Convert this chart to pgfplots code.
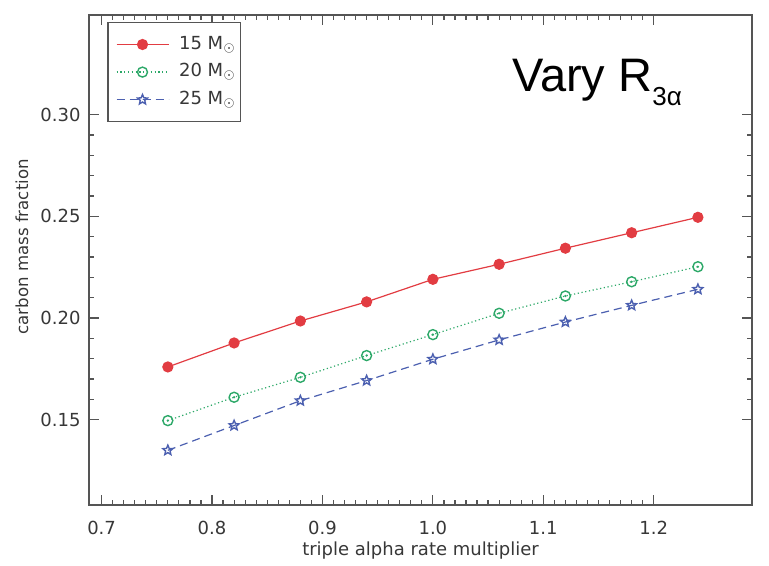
\documentclass[border=0pt]{standalone}
\usepackage{pgfplots}
\pgfplotsset{compat=1.18}
\usepackage{fontspec}
\setmainfont{DejaVu Sans}
\newfontfamily\arial{Liberation Sans}
\usetikzlibrary{plotmarks}
\definecolor{cred}{RGB}{226,60,66}
\definecolor{cgreen}{RGB}{44,168,104}
\definecolor{cblue}{RGB}{76,96,176}
\definecolor{axgray}{RGB}{85,85,85}
\definecolor{txtgray}{RGB}{55,55,55}
\pgfdeclareplotmark{ostar}{%
  \pgfpathmoveto{\pgfqpointpolar{90}{\pgfplotmarksize}}%
  \pgfpathlineto{\pgfqpointpolar{126}{0.45\pgfplotmarksize}}%
  \pgfpathlineto{\pgfqpointpolar{162}{\pgfplotmarksize}}%
  \pgfpathlineto{\pgfqpointpolar{198}{0.45\pgfplotmarksize}}%
  \pgfpathlineto{\pgfqpointpolar{234}{\pgfplotmarksize}}%
  \pgfpathlineto{\pgfqpointpolar{270}{0.45\pgfplotmarksize}}%
  \pgfpathlineto{\pgfqpointpolar{306}{\pgfplotmarksize}}%
  \pgfpathlineto{\pgfqpointpolar{342}{0.45\pgfplotmarksize}}%
  \pgfpathlineto{\pgfqpointpolar{18}{\pgfplotmarksize}}%
  \pgfpathlineto{\pgfqpointpolar{54}{0.45\pgfplotmarksize}}%
  \pgfpathclose
  \pgfusepathqstroke
}
\begin{document}
\begin{tikzpicture}
\path (-44.5pt,-29pt) rectangle (340pt,252.5pt);
\begin{axis}[
  at={(0,0)}, anchor=south west,
  scale only axis, width=331.5pt, height=245pt,
  xmin=0.6886, xmax=1.289, ymin=0.108, ymax=0.349,
  xtick={0.7,0.8,0.9,1.0,1.1,1.2},
  xticklabels={0.7,0.8,0.9,1.0,1.1,1.2},
  ytick={0.15,0.20,0.25,0.30},
  yticklabels={0.15,0.20,0.25,0.30},
  minor x tick num=9, minor y tick num=4,
  major tick length=5pt, minor tick length=2.7pt,
  tick style={axgray, line width=0.6pt},
  axis line style={axgray, line width=0.75pt},
  ticklabel style={font=\fontsize{9}{10}\selectfont, text=txtgray},
  xticklabel style={anchor=base, yshift=-14.5pt},
  yticklabel style={anchor=east, xshift=-0.7pt},
  xlabel={triple alpha rate multiplier},
  xlabel style={at={(rel axis cs:0.5,0)}, anchor=base, yshift=-25pt, font=\fontsize{9}{10}\selectfont, text=txtgray},
  ylabel={carbon mass fraction},
  ylabel style={at={(rel axis cs:-0.101,0.527)}, anchor=center, rotate=0, font=\fontsize{8.3}{10}\selectfont, text=txtgray},
  legend style={at={(rel axis cs:0.0276,0.9851)}, anchor=north west, draw=axgray, line width=0.6pt, fill=white,
    inner xsep=4pt, inner ysep=4pt, row sep=0.2pt,
    nodes={inner sep=2.5pt, text height=6.6pt, text depth=2pt, font=\fontsize{9}{10}\selectfont, text=txtgray}},
  legend cell align=left,
  legend image code/.code={\draw[mark repeat=2,mark phase=2] plot coordinates {(0pt,0pt) (13pt,0pt) (26pt,0pt)};},
  clip=false,
]
\addplot[cred, line width=0.6pt, mark=*, mark size=2.5pt, mark options={solid, fill=cred}] coordinates {
(0.76,0.1759) (0.82,0.1877) (0.88,0.1985) (0.94,0.2079) (1.00,0.2190) (1.06,0.2264) (1.12,0.2343) (1.18,0.2419) (1.24,0.2495)};
\addlegendentry{\hspace{2.5pt}15 M$_\odot$\kern-4pt}
\addplot[cgreen, line width=0.6pt, dash pattern=on 0.6pt off 1.3pt, mark=o, mark size=2.5pt, mark options={solid, line width=0.7pt}] coordinates {
(0.76,0.1495) (0.82,0.1610) (0.88,0.1708) (0.94,0.1815) (1.00,0.1918) (1.06,0.2023) (1.12,0.2108) (1.18,0.2178) (1.24,0.2252)};
\addlegendentry{\hspace{2.5pt}20 M$_\odot$\kern-4pt}
\addplot[cblue, line width=0.6pt, dash pattern=on 4pt off 2.5pt, mark=ostar, mark size=2.6pt, mark options={solid, line width=0.7pt}] coordinates {
(0.76,0.1349) (0.82,0.1471) (0.88,0.1593) (0.94,0.1692) (1.00,0.1797) (1.06,0.1892) (1.12,0.1980) (1.18,0.2062) (1.24,0.2141)};
\addlegendentry{\hspace{2.5pt}25 M$_\odot$\kern-4pt}
\addplot[cgreen, only marks, mark=*, mark size=0.35pt, forget plot] coordinates {
(0.76,0.1495) (0.82,0.1610) (0.88,0.1708) (0.94,0.1815) (1.00,0.1918) (1.06,0.2023) (1.12,0.2108) (1.18,0.2178) (1.24,0.2252)};
\node[anchor=base west, inner sep=0pt, font=\arial\fontsize{23.5}{28}\selectfont, text=black] at (rel axis cs:0.6376,0.8435) {Vary R\raisebox{-6.7pt}{\fontsize{13}{15}\selectfont 3α}};
\end{axis}
\end{tikzpicture}
\end{document}
